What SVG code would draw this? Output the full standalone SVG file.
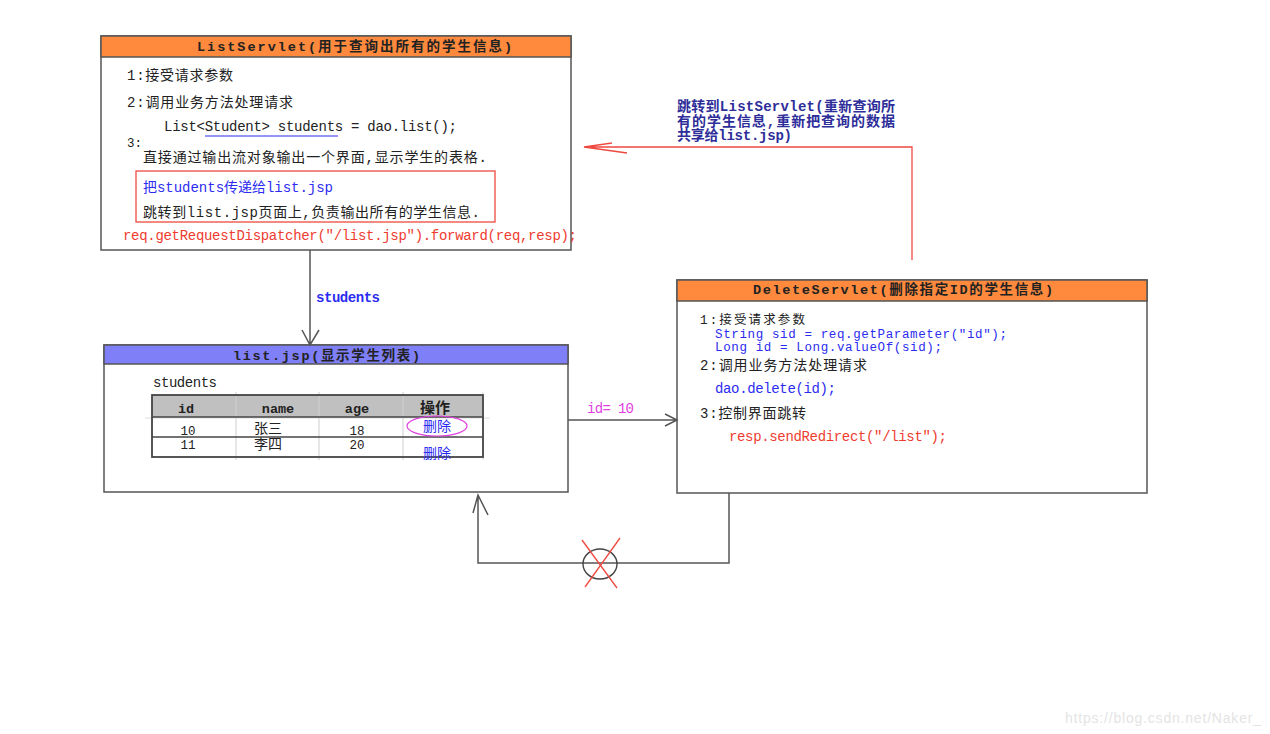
<svg xmlns="http://www.w3.org/2000/svg" width="1270" height="734" viewBox="0 0 1270 734">
<style>
text{font-family:"Liberation Mono","Noto Sans CJK SC",monospace;font-size:14px;fill:#222}
.t{font-weight:bold;font-size:13.5px;fill:#222}
.blue{fill:#2c2cf0}
.red{fill:#ee3b30}
.dblue{fill:#2e2e9a;font-weight:bold}
.mag{fill:#e040e0}
.cjk{font-size:15px}
.sm{font-size:12.5px}
.box{fill:#fff;stroke:#555;stroke-width:1.5}
.hdr{stroke:#555;stroke-width:1.5}
.conn{fill:none;stroke:#555;stroke-width:1.5}
.rconn{fill:none;stroke:#ee4a40;stroke-width:1.3}
.mid{text-anchor:middle}
</style>

<g id="listServlet">
<rect class="box" x="101" y="36" width="470" height="214"/>
<rect class="hdr" x="101" y="36" width="470" height="21" fill="#ff8a3d"/>
<text class="t" x="197" y="51" textLength="315">ListServlet(用于查询出所有的学生信息)</text>
<text x="127" y="80" textLength="106">1:接受请求参数</text>
<text x="127" y="107" textLength="166">2:调用业务方法处理请求</text>
<text x="164" y="131" textLength="293">List&lt;Student&gt; students = dao.list();</text>
<line x1="205" y1="136" x2="338" y2="136" stroke="#2c2cf0" stroke-width="1.2"/>
<text x="127" y="147" class="sm">3:</text>
<text x="143" y="162" textLength="344">直接通过输出流对象输出一个界面,显示学生的表格.</text>
<rect x="136" y="171" width="359" height="51" fill="none" stroke="#ee4a40" stroke-width="1.3"/>
<text class="blue" x="143" y="192" textLength="190">把students传递给list.jsp</text>
<text x="143" y="217" textLength="337">跳转到list.jsp页面上,负责输出所有的学生信息.</text>
<text class="red" x="123" y="240" textLength="454">req.getRequestDispatcher("/list.jsp").forward(req,resp);</text>
</g>

<g id="listJsp">
<rect class="box" x="104" y="345" width="464" height="147"/>
<rect class="hdr" x="104" y="345" width="464" height="19" fill="#7f7ff8"/>
<text class="t" x="233" y="360" textLength="187">list.jsp(显示学生列表)</text>
<text x="153" y="387" textLength="64">students</text>
<g id="table">
<rect x="152" y="395" width="331" height="22" fill="#c0c0c0"/>
<line x1="236" y1="392" x2="236" y2="460" stroke="#cfcfcf"/>
<line x1="319" y1="392" x2="319" y2="460" stroke="#cfcfcf"/>
<line x1="403" y1="392" x2="403" y2="460" stroke="#cfcfcf"/>
<line x1="483" y1="392" x2="483" y2="460" stroke="#dcdcdc"/>
<line x1="145" y1="418" x2="490" y2="418" stroke="#dcdcdc"/>
<line x1="152" y1="417" x2="483" y2="417" stroke="#444" stroke-width="1.5"/>
<line x1="152" y1="437" x2="483" y2="437" stroke="#444" stroke-width="1.5"/>
<rect x="152" y="395" width="331" height="62" fill="none" stroke="#444" stroke-width="1.8"/>
<text class="t mid" x="186" y="413">id</text>
<text class="t mid" x="278" y="413">name</text>
<text class="t mid" x="357" y="413">age</text>
<text class="t mid cjk" x="435" y="413">操作</text>
<text class="mid sm" x="188" y="435">10</text>
<text class="mid" x="268" y="433">张三</text>
<text class="mid sm" x="357" y="435">18</text>
<text class="mid sm" x="188" y="449">11</text>
<text class="mid" x="268" y="449">李四</text>
<text class="mid sm" x="357" y="449">20</text>
<text class="blue mid" x="437" y="431">删除</text>
<ellipse cx="437" cy="426" rx="30" ry="10" fill="none" stroke="#e040e0" stroke-width="1.2"/>
<text class="blue mid" x="437" y="458">删除</text>
</g>
</g>

<g id="deleteServlet">
<rect class="box" x="677" y="280" width="470" height="213"/>
<rect class="hdr" x="677" y="280" width="470" height="21" fill="#ff8a3d"/>
<text class="t" x="753" y="294" textLength="300">DeleteServlet(删除指定ID的学生信息)</text>
<text x="700" y="324" class="sm" textLength="105">1:接受请求参数</text>
<text class="blue sm" x="715" y="338" textLength="292">String sid = req.getParameter("id");</text>
<text class="blue sm" x="715" y="351" textLength="227">Long id = Long.valueOf(sid);</text>
<text x="700" y="370" textLength="167">2:调用业务方法处理请求</text>
<text class="blue" x="715" y="393" textLength="121">dao.delete(id);</text>
<text x="700" y="418" textLength="106">3:控制界面跳转</text>
<text class="red" x="729" y="441" textLength="218">resp.sendRedirect("/list");</text>
</g>

<g id="connectors">
<path class="conn" d="M310,250 V344 M302,330 L310,345 L319,330"/>
<path class="conn" d="M568,420 H676 M665,414 L677,420 L665,426"/>
<path class="conn" d="M729,493 V563 H478 V496 M473,513 L478,495 L488,515"/>
<ellipse cx="600" cy="564" rx="17" ry="15" fill="none" stroke="#444" stroke-width="1.4"/>
<line x1="582" y1="540" x2="617" y2="588" stroke="#ee4a40" stroke-width="1.3"/>
<line x1="620" y1="538" x2="585" y2="587" stroke="#ee4a40" stroke-width="1.3"/>
<path class="rconn" d="M912,260 V147 H584 M612,143 L584,147 L627,153"/>
</g>

<g id="labels">
<text class="blue" x="316" y="302" textLength="64" font-weight="bold">students</text>
<text class="mag" x="587" y="413" textLength="47">id= 10</text>
<text class="dblue" x="677" y="111" textLength="218">跳转到ListServlet(重新查询所</text>
<text class="dblue" x="677" y="126" textLength="218">有的学生信息,重新把查询的数据</text>
<text class="dblue" x="677" y="140" textLength="115">共享给list.jsp)</text>
</g>

<text x="1065" y="723" style="font-family:'Liberation Sans',sans-serif;font-size:14px;fill:#e4e4e4" textLength="196">https://blog.csdn.net/Naker_</text>
</svg>
